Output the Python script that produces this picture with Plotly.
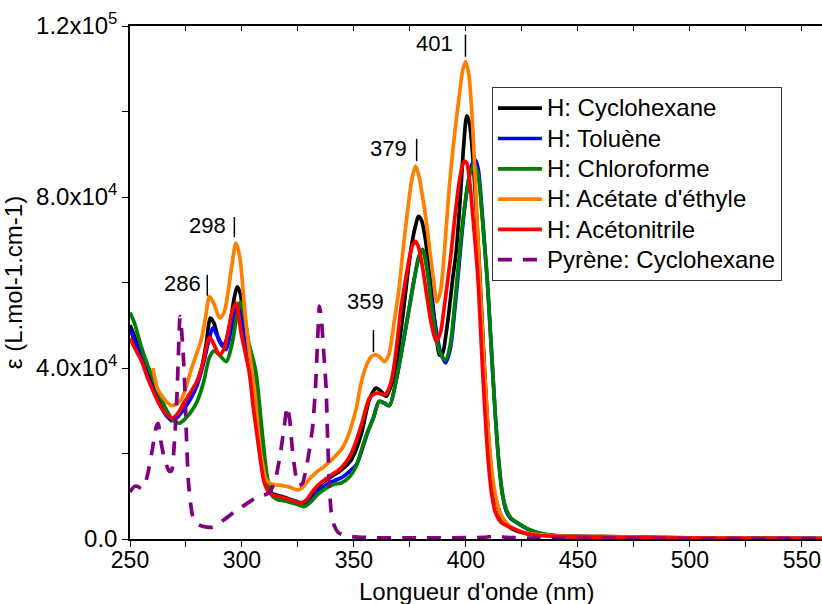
import plotly.graph_objects as go

# ---------------- data (epsilon in units of 10^3 L.mol-1.cm-1) ----------------
wl_cyc = [250, 252, 255, 258, 260, 263, 266, 268.5, 271, 274, 277.3, 279.5, 281.8, 284, 285.9, 287.5, 289.5, 291.4, 293, 295, 296.7, 297.9, 299.2, 300.5, 302, 304.3, 306, 308, 310, 313, 317.5, 322, 327.1, 330, 333, 336, 339.8, 344, 348.8, 351, 353.5, 356.9, 359.9, 362, 364.4, 366, 368, 370, 372, 374, 376, 377.6, 378.8, 380.2, 381.8, 383.5, 385.2, 386.8, 388.2, 389.6, 391, 392.5, 394, 395.6, 397.5, 399, 400.4, 401.5, 403, 404.5, 406, 407.5, 409, 410.5, 412, 414, 416.5, 420, 425, 430, 440, 450, 465, 480, 500, 530, 559]
eps_cyc = [50, 47.5, 43.1, 38.5, 36.0, 32.3, 29.3, 27.7, 28.5, 30.6, 33.4, 36.0, 39.6, 45.5, 51.7, 50.5, 46.8, 45.1, 46.5, 51.5, 56.8, 59.0, 57.5, 53.0, 47.0, 38.8, 30.5, 21.0, 14.5, 10.8, 10.0, 9.2, 8.4, 9.3, 11.5, 13.2, 14.6, 16.0, 18.5, 21.0, 25.0, 32.6, 35.3, 34.6, 33.4, 35.0, 38.5, 45.0, 53.0, 62.0, 69.5, 73.5, 75.5, 74.5, 70.5, 63.5, 55.0, 47.5, 43.0, 43.5, 47.5, 53.5, 60.5, 67.0, 80.0, 92.0, 99.0, 97.5, 90.0, 78.0, 64.0, 48.0, 33.0, 21.0, 13.0, 8.0, 4.5, 2.6, 1.5, 1.0, 0.7, 0.55, 0.5, 0.4, 0.25, 0.15, 0.1]

wl_tol = [250, 252, 255, 258, 260, 263, 266, 268.5, 271, 274, 277.3, 280, 283, 285.2, 287, 289, 291, 292.9, 295, 296.5, 297.6, 299, 300.5, 302.5, 305.5, 307.5, 309.5, 311.5, 313.5, 316, 320, 324, 327.5, 331, 334, 338, 342, 345, 348, 351.2, 354, 356.5, 358.8, 361.2, 363.5, 365.8, 368.8, 372, 375, 377, 379, 380.7, 382.5, 384.5, 386.5, 388.5, 390.9, 393, 395, 397, 399, 401, 402.6, 404.2, 405.5, 407, 408.4, 409.6, 411.3, 413, 414.6, 416.3, 418, 420, 424, 428, 433, 440, 450, 470, 500, 530, 559]
eps_tol = [49, 46.5, 42.5, 38.0, 35.5, 31.8, 29.0, 27.9, 28.5, 30.3, 33.0, 36.0, 41.5, 46.5, 49.4, 47.5, 45.5, 44.3, 48.5, 52.5, 54.8, 54.0, 50.0, 44.0, 38.8, 30.0, 20.5, 13.5, 10.5, 9.6, 9.3, 8.8, 8.0, 9.2, 11.2, 12.8, 13.8, 14.5, 15.8, 17.5, 21.5, 25.5, 28.5, 32.2, 31.8, 31.2, 37.0, 46.0, 55.0, 61.0, 66.0, 67.7, 64.0, 56.5, 49.5, 44.0, 41.2, 44.5, 53.5, 64.5, 75.5, 83.5, 87.5, 88.7, 86.5, 78.0, 68.5, 60.0, 45.0, 30.0, 18.5, 10.5, 6.5, 4.8, 3.4, 2.2, 1.3, 0.8, 0.6, 0.5, 0.2, 0.15, 0.1]

wl_chl = [250, 252, 255, 258, 260, 263, 266, 269, 272, 275, 278.8, 281, 283, 285.5, 287.5, 290, 293, 295.5, 297.5, 299.3, 301, 303, 305, 306.3, 308, 309.5, 311, 312.5, 314, 316, 320, 324, 327.9, 331, 334, 338, 341, 344.3, 348, 351, 353.9, 356, 358.4, 361.4, 363.5, 365.8, 368.8, 372, 375, 377, 379, 380.7, 382.5, 384.5, 386.5, 388.5, 390.9, 393, 395, 397, 399, 401, 402.5, 403.8, 405.5, 407, 408.4, 409.6, 411.3, 413, 414.6, 416.3, 418, 420, 424, 428, 433, 440, 450, 470, 500, 530, 559]
eps_chl = [53, 50.5, 45.0, 40.5, 38.0, 34.0, 30.5, 28.0, 27.1, 28.3, 31.0, 33.5, 37.0, 42.5, 44.0, 43.0, 41.5, 45.5, 51.5, 55.5, 52.5, 46.0, 42.0, 38.8, 30.5, 22.5, 15.5, 11.5, 9.8, 9.2, 8.8, 8.2, 7.6, 8.8, 10.5, 12.0, 12.8, 13.1, 14.5, 17.0, 21.7, 25.0, 27.9, 32.2, 31.8, 31.2, 37.0, 46.0, 55.0, 61.0, 66.0, 67.7, 63.5, 55.0, 48.0, 43.5, 41.9, 45.5, 55.0, 66.0, 76.0, 83.5, 86.5, 87.5, 85.0, 77.0, 68.0, 60.0, 45.0, 30.0, 18.5, 10.5, 7.0, 5.0, 3.5, 2.3, 1.4, 0.8, 0.6, 0.5, 0.2, 0.15, 0.1]

wl_ace = [260.2, 261.2, 262.4, 264.5, 266.5, 268.4, 270.5, 272.9, 275, 277.3, 279.5, 281.8, 283.8, 285.5, 287.5, 290, 292, 293.7, 295.5, 297.3, 299, 301.1, 303, 305.6, 307, 308.6, 310.8, 312.5, 314.5, 318, 321, 324.9, 327, 330, 333, 336.8, 340, 344.3, 346.5, 348.8, 351, 353.2, 355.5, 357.5, 359.2, 361, 363.6, 365.5, 368, 370, 371.8, 374, 376, 377.5, 379, 380.5, 382.2, 384, 385.9, 386.9, 388.5, 390.5, 392.6, 395, 397.1, 398.5, 399.8, 401.2, 402.5, 404, 405.2, 406.2, 407.5, 409, 410.3, 411.8, 413.3, 415, 418, 422, 427, 435, 445, 460, 480, 500, 530, 559]
eps_ace = [40.0, 37.5, 35.0, 33.3, 32.0, 31.2, 31.5, 32.6, 35.5, 39.6, 43.0, 46.6, 52.0, 56.7, 55.0, 51.7, 53.0, 57.5, 64.0, 69.2, 66.0, 54.4, 45.0, 34.9, 27.0, 19.3, 13.9, 13.0, 12.7, 12.5, 12.2, 11.5, 12.0, 14.0, 15.5, 17.0, 18.5, 20.9, 23.0, 26.3, 30.5, 36.5, 40.5, 42.5, 43.1, 42.8, 41.5, 43.0, 51.0, 58.0, 67.0, 77.0, 84.5, 87.2, 85.0, 80.5, 74.7, 67.0, 59.0, 55.5, 57.5, 68.0, 82.5, 95.0, 104.0, 109.5, 111.7, 109.0, 101.0, 86.0, 72.0, 61.0, 47.0, 33.0, 23.0, 15.0, 10.0, 6.5, 3.8, 2.3, 1.4, 0.9, 0.7, 0.6, 0.4, 0.25, 0.15, 0.1]

wl_acn = [250, 252, 255, 258, 260, 263, 266, 269.1, 271.5, 274, 277.3, 280, 282.5, 285.5, 287.5, 290, 292, 294, 295.8, 297.4, 299.6, 301.5, 303.3, 305, 307, 308.5, 310, 313, 316, 320, 326.3, 329, 332, 336, 340, 344, 348.8, 353.5, 357, 359.9, 361.7, 363.6, 365.5, 367.3, 369.5, 371, 372.5, 374.5, 376, 377.5, 379, 380.5, 382.5, 384.5, 386.7, 388.5, 390, 392, 393.4, 395, 397, 398.5, 399.3, 400.3, 401.6, 403, 404.5, 405.6, 407, 408.5, 410, 411.5, 413, 415.5, 418, 420.4, 425, 430, 440, 450, 470, 500, 530, 559]
eps_acn = [47.0, 44.8, 41.8, 37.5, 35.0, 31.6, 29.3, 28.3, 29.5, 31.8, 34.5, 37.0, 41.0, 47.2, 45.5, 43.1, 44.5, 49.0, 53.5, 55.2, 48.2, 43.5, 38.8, 31.0, 23.2, 17.5, 13.1, 10.4, 10.0, 9.4, 8.4, 9.3, 11.5, 13.5, 15.0, 16.5, 20.0, 27.0, 33.0, 34.1, 34.0, 33.7, 35.0, 38.5, 47.0, 54.0, 59.0, 65.0, 68.5, 69.6, 68.0, 64.0, 57.0, 50.5, 46.3, 48.0, 53.0, 61.0, 67.0, 75.0, 83.5, 87.5, 88.3, 88.0, 84.0, 76.0, 67.0, 59.0, 44.0, 29.7, 18.0, 10.5, 6.5, 4.0, 3.2, 2.6, 1.6, 1.0, 0.6, 0.5, 0.4, 0.2, 0.15, 0.1]

wl_pyr = [250, 252, 253.5, 255, 256.5, 258, 260, 261.7, 262.6, 263.9, 265.5, 267.6, 268.6, 270, 271, 271.8, 272.3, 273, 273.8, 274.5, 275.2, 276, 277, 278, 280, 283, 287, 292, 297, 302.5, 306, 309, 311, 313, 315, 317, 318.8, 320.2, 321.3, 322.5, 324, 325.5, 327, 328.5, 330, 331.5, 332.8, 333.8, 334.6, 335.4, 336.1, 337, 337.6, 338.3, 339, 339.8, 341.3, 343, 346, 350, 360, 380, 400, 408, 413.5, 418, 430, 460, 500, 559]
eps_pyr = [11.0, 12.3, 12.3, 11.8, 12.5, 15.4, 21.0, 26.3, 27.0, 22.5, 18.5, 15.8, 16.0, 24.0, 34.0, 46.0, 52.0, 49.0, 43.0, 35.0, 24.0, 14.0, 8.5, 5.3, 3.5, 2.9, 2.8, 4.5, 6.5, 8.4, 9.6, 10.2, 10.5, 11.5, 14.0, 19.5, 26.0, 31.0, 28.0, 21.0, 15.0, 12.5, 13.0, 16.0, 20.5, 26.0, 35.0, 47.0, 54.5, 52.0, 46.6, 40.0, 35.0, 22.5, 13.0, 6.5, 3.0, 1.5, 0.8, 0.5, 0.3, 0.3, 0.3, 0.4, 0.7, 0.4, 0.2, 0.15, 0.1, 0.1]

series_names = ["H: Cyclohexane", "H: Toluène", "H: Chloroforme",
                "H: Acétate d'éthyle", "H: Acétonitrile", "Pyrène: Cyclohexane"]
series_colors = ["#000000", "#0000FF", "#008000", "#FF8000", "#FF0000", "#800080"]

# peak labels: text, label position, marker bar (x, y bottom, y top)
peak_text = ["286", "298", "359", "379", "401"]
peak_text_x = [273.3, 284.6, 355.1, 365.6, 385.9]
peak_text_y = [59.8, 73.4, 55.6, 91.3, 115.8]
peak_bar_x = [284.5, 296.6, 358.7, 378.0, 399.8]
peak_bar_y0 = [56.9, 70.6, 43.7, 88.4, 112.8]
peak_bar_y1 = [61.8, 75.3, 48.9, 93.6, 118.0]

x_ticks = [250, 275, 300, 325, 350, 375, 400, 425, 450, 475, 500, 525, 550]
x_ticktext = ["250", "", "300", "", "350", "", "400", "", "450", "", "500", "", "550"]
y_ticks = [0, 20000, 40000, 60000, 80000, 100000, 120000]
y_ticktext = ["0.0", "", "4.0x10<sup>4</sup>", "", "8.0x10<sup>4</sup>", "", "1.2x10<sup>5</sup>"]
x_title = "Longueur d'onde (nm)"
y_title = "ε (L.mol-1.cm-1)"

SCALE = 1000.0
FONT = "Arial, 'Liberation Sans', sans-serif"

all_wl = [wl_cyc, wl_tol, wl_chl, wl_ace, wl_acn, wl_pyr]
all_eps = [eps_cyc, eps_tol, eps_chl, eps_ace, eps_acn, eps_pyr]
for a, b in zip(all_wl, all_eps):
    assert len(a) == len(b), (len(a), len(b))

fig = go.Figure()
for i, (w, e) in enumerate(zip(all_wl, all_eps)):
    is_pyr = i == 5
    fig.add_trace(go.Scatter(
        x=w, y=[v * SCALE for v in e], mode="lines",
        name='<span style="font-size:24px">' + series_names[i] + "</span>",
        line=dict(color=series_colors[i], width=3.7,
                  dash="14px,11px" if is_pyr else "solid",
                  shape="spline", smoothing=0.5 if is_pyr else 0.8),
    ))

# peak marker bars
bx, by = [], []
for x0, y0, y1 in zip(peak_bar_x, peak_bar_y0, peak_bar_y1):
    bx += [x0, x0, None]
    by += [y0 * SCALE, y1 * SCALE, None]
fig.add_trace(go.Scatter(x=bx, y=by, mode="lines", showlegend=False,
                         line=dict(color="black", width=1.5), hoverinfo="skip"))
# dummy trace for top axis
fig.add_trace(go.Scatter(x=[], y=[], xaxis="x2", showlegend=False))

for t, tx, ty in zip(peak_text, peak_text_x, peak_text_y):
    fig.add_annotation(x=tx, y=ty * SCALE, text=t, showarrow=False,
                       font=dict(family=FONT, size=22, color="black"))

# x-axis title (partly below the bottom edge, as in the original)
fig.add_annotation(x=0.5, y=-0.1033, xref="paper", yref="paper", text=x_title,
                   showarrow=False, yanchor="middle",
                   font=dict(family=FONT, size=24, color="black"))

fig.update_layout(
    width=822, height=604,
    margin=dict(l=130, r=0, t=26, b=65),
    paper_bgcolor="white", plot_bgcolor="white",
    font=dict(family=FONT, size=24, color="black"),
    showlegend=True,
    hovermode=False,
    legend=dict(x=0.523, y=0.881, xanchor="left", yanchor="top",
                bordercolor="#333333", borderwidth=1, bgcolor="white",
                font=dict(family=FONT, size=21, color="black"),
                tracegroupgap=0, itemwidth=44),
    xaxis=dict(range=[250, 559], tickmode="array", tickvals=x_ticks, ticktext=x_ticktext,
               ticks="outside", ticklen=6, tickwidth=1, tickcolor="black",
               showline=True, linecolor="black", linewidth=1.5, showgrid=False,
               zeroline=False, tickfont=dict(size=23), ticklabelstandoff=-6),
    xaxis2=dict(range=[250, 559], overlaying="x", side="top", tickmode="array",
                tickvals=x_ticks, ticks="inside", ticklen=5, tickcolor="black",
                showticklabels=False, showline=True, linecolor="black", linewidth=1.5,
                showgrid=False, zeroline=False),
    yaxis=dict(range=[0, 120000], tickmode="array", tickvals=y_ticks, ticktext=y_ticktext,
               ticks="outside", ticklen=6, tickwidth=1, tickcolor="black",
               showline=True, linecolor="black", linewidth=1.5, showgrid=False,
               zeroline=False, tickfont=dict(size=24),
               title=dict(text=y_title, font=dict(size=24))),
)

# remove the default page margin so the 822x604 figure fills the window exactly
fig.write_html("out.html",
               config={"displayModeBar": False},
               post_script="document.body.style.margin='0';"
                           "document.body.style.overflow='hidden';")
